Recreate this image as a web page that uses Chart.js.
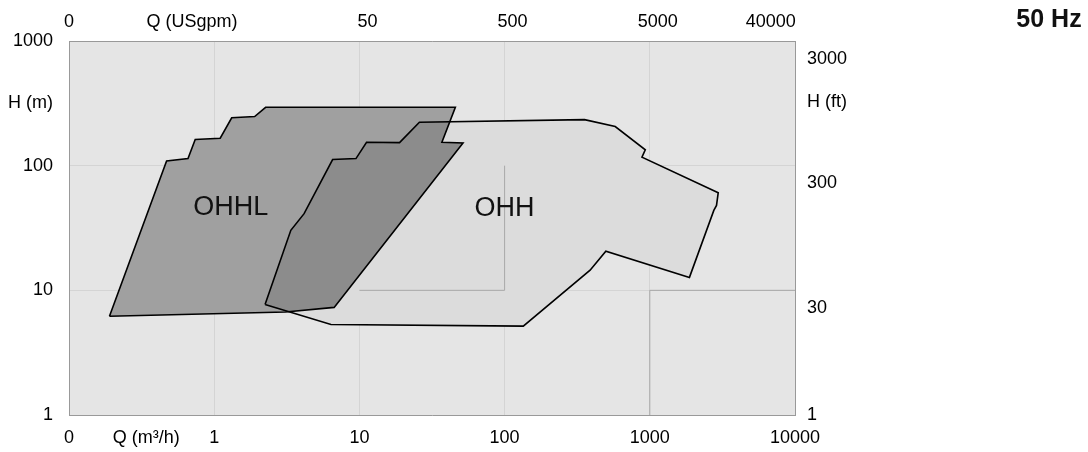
<!DOCTYPE html>
<html>
<head>
<meta charset="utf-8">
<script src="https://cdn.jsdelivr.net/npm/chart.js@4.4.1/dist/chart.umd.min.js"></script>
<style>
  html, body { margin: 0; padding: 0; background: #fff; }
  #box { width: 1088px; height: 452px; }
</style>
</head>
<body>
<div id="box"><canvas id="chart" width="1088" height="452"></canvas></div>
<script>
// zone OHHL (Q in m3/h, H in m)
const ohhlQ = [0.19, 0.47, 0.66, 0.74, 1.1, 1.32, 1.9, 2.26, 45.8, 37, 51.7, 6.7, 3.1, 0.19];
const ohhlH = [6.2, 109, 114, 162, 166, 242, 248, 294, 294, 154, 152, 7.3, 6.7, 6.2];

// zone OHH
const ohhQ = [2.24, 3.37, 4.16, 6.54, 9.47, 11.2, 18.9, 25.9, 355, 578, 931, 883, 2960, 2880, 2760, 1875, 498, 388, 134.5, 6.37, 2.24];
const ohhH = [7.7, 30.3, 41.2, 112, 114, 154, 153, 223, 234, 206, 134, 117, 60.7, 48, 43.8, 12.7, 20.6, 14.5, 5.16, 5.32, 7.7];

// darker grid pieces
const seg1Q = [10, 100, 100];
const seg1H = [10, 10, 100];
const seg2Q = [1000, 1000, 10000];
const seg2H = [1, 10, 10];

const zoneNames = ['OHHL', 'OHH'];
const zoneNameQ = [1.3, 100];
const zoneNameH = [46, 45];

// axis ticks
const qTicks = [0.1, 0.34, 1, 10, 100, 1000, 10000];
const qLabels = ['0', 'Q (m³/h)', '1', '10', '100', '1000', '10000'];
const gpmTicks = [0.4403, 3.1, 50, 500, 5000, 30000];
const gpmLabels = ['0', 'Q (USgpm)', '50', '500', '5000', '40000'];
const hTicks = [1, 10, 100, 316, 1000];
const hLabels = ['1', '10', '100', 'H (m)', '1000'];
const ftTicks = [4.17, 30, 300, 1350, 3000];
const ftLabels = ['1', '30', '300', 'H (ft)', '3000'];

const pts = (xs, ys) => xs.map((x, i) => ({ x: x, y: ys[i] }));
const gridCol = 'rgba(200,200,200,0.6)';
const tickFont = { family: "'Liberation Sans', Arial, sans-serif", size: 18 };

const zones = {
    id: 'zones',
    beforeDraw(chart) {
        const a = chart.chartArea, c = chart.ctx;
        c.save();
        c.fillStyle = '#e5e5e5';
        c.fillRect(a.left, a.top, a.width, a.height);
        c.restore();
    },
    beforeDatasetsDraw(chart) {
        const c = chart.ctx, a = chart.chartArea;
        const path = i => {
            const d = chart.getDatasetMeta(i).data;
            c.beginPath();
            d.forEach((p, k) => k ? c.lineTo(p.x, p.y) : c.moveTo(p.x, p.y));
            c.closePath();
        };
        c.save();
        c.beginPath(); c.rect(a.left, a.top, a.width, a.height); c.clip();
        path(1); c.fillStyle = '#dcdcdc'; c.fill();
        path(0); c.fillStyle = '#a0a0a0'; c.fill();
        path(0); c.clip();
        path(1); c.fillStyle = '#8c8c8c'; c.fill();
        c.restore();
    },
    afterDraw(chart) {
        const c = chart.ctx, sx = chart.scales.x, sy = chart.scales.y;
        c.save();
        c.fillStyle = '#111';
        c.textAlign = 'center';
        c.textBaseline = 'middle';
        c.font = "27px 'Liberation Sans', Arial, sans-serif";
        zoneNames.forEach((t, i) => c.fillText(t, sx.getPixelForValue(zoneNameQ[i]), sy.getPixelForValue(zoneNameH[i])));
        c.font = "bold 25px 'Liberation Sans', Arial, sans-serif";
        c.fillText('50 Hz', 1049, 20);
        c.restore();
    }
};

function line(xs, ys, col, w) {
    return {
        data: pts(xs, ys),
        showLine: true,
        borderColor: col,
        borderWidth: w,
        pointRadius: 0,
        fill: false,
        tension: 0
    };
}

function fixTicks(list) {
    return s => { s.ticks = list.map(v => ({ value: v })); };
}

new Chart(document.getElementById('chart'), {
    type: 'scatter',
    data: {
        datasets: [
            line(ohhlQ, ohhlH, '#000', 1.6),
            line(ohhQ, ohhH, '#000', 1.6),
            line(seg1Q, seg1H, '#a8a8a8', 1),
            line(seg2Q, seg2H, '#a8a8a8', 1)
        ]
    },
    options: {
        responsive: false,
        animation: false,
        layout: { padding: 0 },
        plugins: { legend: { display: false }, tooltip: { enabled: false } },
        scales: {
            x: {
                type: 'logarithmic', position: 'bottom', min: 0.1, max: 10000, z: 1,
                afterBuildTicks: fixTicks(qTicks),
                afterFit: s => { s.height = 37; },
                grid: { color: c => (c.index === 1 ? 'rgba(0,0,0,0)' : gridCol), drawTicks: false },
                border: { display: true, color: '#999', width: 1 },
                ticks: { callback: (v, i) => qLabels[i], autoSkip: false, maxRotation: 0, padding: 12, color: '#000', font: tickFont }
            },
            x2: {
                type: 'logarithmic', position: 'top', min: 0.4403, max: 44030,
                afterBuildTicks: fixTicks(gpmTicks),
                afterFit: s => { s.height = 41; },
                grid: { display: false, drawTicks: false },
                border: { display: true, color: '#999', width: 1 },
                ticks: { callback: (v, i) => gpmLabels[i], autoSkip: false, maxRotation: 0, padding: 8, color: '#000', font: tickFont }
            },
            y: {
                type: 'logarithmic', position: 'left', min: 1, max: 1000, z: 1,
                afterBuildTicks: fixTicks(hTicks),
                afterFit: s => { s.width = 69; },
                grid: { color: c => (c.index === 3 ? 'rgba(0,0,0,0)' : gridCol), drawTicks: false },
                border: { display: true, color: '#999', width: 1 },
                ticks: { callback: (v, i) => hLabels[i], autoSkip: false, padding: 16, color: '#000', font: tickFont }
            },
            y2: {
                type: 'logarithmic', position: 'right', min: 4.17, max: 4170,
                afterBuildTicks: fixTicks(ftTicks),
                afterFit: s => { s.width = 293; },
                grid: { display: false, drawTicks: false },
                border: { display: true, color: '#999', width: 1 },
                ticks: { callback: (v, i) => ftLabels[i], autoSkip: false, padding: 12, color: '#000', font: tickFont }
            }
        }
    },
    plugins: [zones]
});
</script>
</body>
</html>
